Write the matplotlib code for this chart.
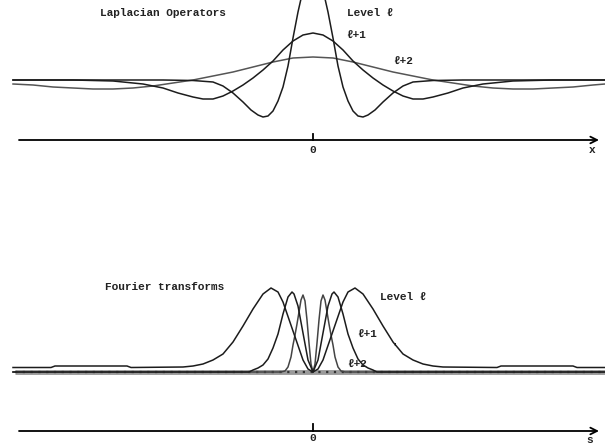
import matplotlib
matplotlib.use("Agg")
import matplotlib.pyplot as plt

# ---------------- data ----------------
# Top panel: Laplacian operators, horizontal offset from 0 and amplitude
lap_l_x = [-300, -150, -120, -100, -90, -80, -70, -62, -55, -50, -45, -40, -35, -30, -25, -20,
           -15, -10, -5, 0, 5, 10, 15, 20, 25, 30, 35, 40, 45, 50, 55, 62, 70, 80, 90, 100,
           120, 150, 292]
lap_l_y = [0, 0, -0.5, -2, -6, -13, -22, -30, -35, -37, -36, -31, -21, -7, 14, 42,
           68, 90, 105, 110, 105, 90, 68, 42, 14, -7, -21, -31, -36, -37, -35, -30, -22, -13, -6, -2,
           -0.5, 0, 0]

lap_l1_x = [-300, -240, -200, -170, -150, -135, -120, -110, -100, -90, -80, -70, -60, -50, -40,
            -30, -20, -10, 0, 10, 20, 30, 40, 50, 60, 70, 80, 90, 100, 110, 120, 135, 150, 170,
            200, 240, 292]
lap_l1_y = [0, 0, -1, -4, -8, -13, -17, -19, -19, -16, -11, -5, 2, 10, 19,
            30, 39, 45, 47, 45, 39, 30, 19, 10, 2, -5, -11, -16, -19, -19, -17, -13, -8, -4,
            -1, 0, 0]

lap_l2_x = [-300, -280, -260, -240, -220, -200, -180, -160, -140, -120, -100, -80, -60, -40, -20,
            0, 20, 40, 60, 80, 100, 120, 140, 160, 180, 200, 220, 240, 260, 280, 292]
lap_l2_y = [-4, -5, -7, -8, -9, -9, -8, -6, -3, 0, 4, 8, 13, 18, 22,
            23, 22, 18, 13, 8, 4, 0, -3, -6, -8, -9, -9, -8, -7, -5, -4]

# Bottom panel: Fourier transforms, frequency offset from 0 and amplitude
ft_l_x = [-300, -262, -258, -186, -182, -130, -120, -110, -100, -90, -80, -70, -60, -50, -42, -35,
          -30, -20, -10, -5, 0, 5, 10, 20, 30, 35, 42, 50, 60, 70, 80, 90, 100, 110, 120, 130,
          184, 188, 260, 264, 292]
ft_l_y = [4.5, 4.5, 6, 6, 4.5, 5, 6, 8, 12, 18, 30, 46, 63, 78, 84, 80,
          70, 41, 12, 3, 0, 3, 12, 41, 70, 80, 84, 78, 63, 46, 30, 18, 12, 8, 6, 5,
          4.5, 6, 6, 4.5, 4.5]

ft_l1_x = [-300, -64, -60, -55, -50, -45, -40, -35, -30, -25, -21, -19, -15, -10, -5, 0,
           5, 10, 15, 19, 21, 25, 30, 35, 40, 45, 50, 55, 60, 64, 292]
ft_l1_y = [0, 0, 2, 4, 7, 13, 24, 38, 58, 75, 80, 78, 66, 39, 12, 0,
           12, 39, 66, 78, 80, 75, 58, 38, 24, 13, 7, 4, 2, 0, 0]

ft_l2_x = [-300, -32, -28, -25, -22, -20, -18, -16, -14, -12, -10, -8, -6, -4, -2, 0,
           2, 4, 6, 8, 10, 12, 14, 16, 18, 20, 22, 25, 28, 32, 292]
ft_l2_y = [0, 0, 1, 5, 15, 27, 37, 48, 60, 72, 77, 71, 52, 29, 8, 0,
           8, 29, 52, 71, 77, 72, 60, 48, 37, 27, 15, 5, 1, 0, 0]

top_title = "Laplacian Operators"
bottom_title = "Fourier transforms"
level_labels = ["Level \u2113", "\u2113+1", "\u2113+2"]
zero_label = "0"
top_axis_label = "x"
bottom_axis_label = "s"

# ---------------- drawing ----------------
W, H = 605, 444
fig = plt.figure(figsize=(W / 100, H / 100), dpi=100)
fig.patch.set_facecolor("white")

font = dict(family=["Liberation Mono", "DejaVu Sans Mono", "DejaVu Sans"],
            fontsize=8, fontweight="bold", color="#222222")

def make_axes(top_px, bottom_px, ylo, yhi):
    ax = fig.add_axes([0, 1 - bottom_px / H, 1, (bottom_px - top_px) / H])
    ax.set_xlim(-313, 292)
    ax.set_ylim(ylo, yhi)
    ax.axis("off")
    return ax

dark = "#1c1c1c"

# Top panel (pixel rows 0..160, baseline at row 80)
ax1 = make_axes(0, 160, -80, 80)
ax1.plot(lap_l2_x, lap_l2_y, color="#555555", lw=1.1, zorder=2)
ax1.plot(lap_l1_x, lap_l1_y, color=dark, lw=1.1, zorder=3)
ax1.plot(lap_l_x, lap_l_y, color=dark, lw=1.1, zorder=4)
ax1.annotate("", xy=(286, -60), xytext=(-294, -60),
             arrowprops=dict(arrowstyle="->", lw=1.3, color="black", mutation_scale=12,
                             shrinkA=0, shrinkB=0))
ax1.plot([0, 0], [-54, -60], color="black", lw=1.3)
ax1.text(0, -70, zero_label, ha="center", va="center", **font)
ax1.text(279, -70, top_axis_label, ha="center", va="center", **font)
ax1.text(-213, 67, top_title, ha="left", va="center", **font)
ax1.text(34, 67, level_labels[0], ha="left", va="center", **font)
ax1.text(33, 44, level_labels[1], ha="left", va="center", **font)
ax1.text(80, 18, level_labels[2], ha="left", va="center", **font)

# Bottom panel (pixel rows 270..444, baseline at row 372)
ax2 = make_axes(270, 444, -72, 102)
ax2.plot([-298, 292], [0, 0], color="#9a9a9a", lw=3.5, zorder=1, solid_capstyle="butt")
ax2.plot([-298, 292], [0, 0], color="#333333", lw=1.6, ls=(0, (1, 2.5)), zorder=1.5)
ax2.plot(ft_l2_x, ft_l2_y, color="#444444", lw=1.1, zorder=2)
ax2.plot(ft_l1_x, ft_l1_y, color=dark, lw=1.1, zorder=3)
ax2.plot(ft_l_x, ft_l_y, color=dark, lw=1.1, zorder=4)
ax2.annotate("", xy=(286, -59), xytext=(-294, -59),
             arrowprops=dict(arrowstyle="->", lw=1.3, color="black", mutation_scale=12,
                             shrinkA=0, shrinkB=0))
ax2.plot([0, 0], [-52, -59], color="black", lw=1.3)
ax2.text(0, -66, zero_label, ha="center", va="center", **font)
ax2.text(277, -68, bottom_axis_label, ha="center", va="center", **font)
ax2.text(-208, 85, bottom_title, ha="left", va="center", **font)
ax2.text(67, 75, level_labels[0], ha="left", va="center", **font)
ax2.text(44, 37, level_labels[1], ha="left", va="center", **font)
ax2.text(34, 7, level_labels[2], ha="left", va="center", **font)
ax2.text(82, 24, "'", ha="center", va="center", **font)

fig.savefig("out.png", dpi=100, facecolor="white")
